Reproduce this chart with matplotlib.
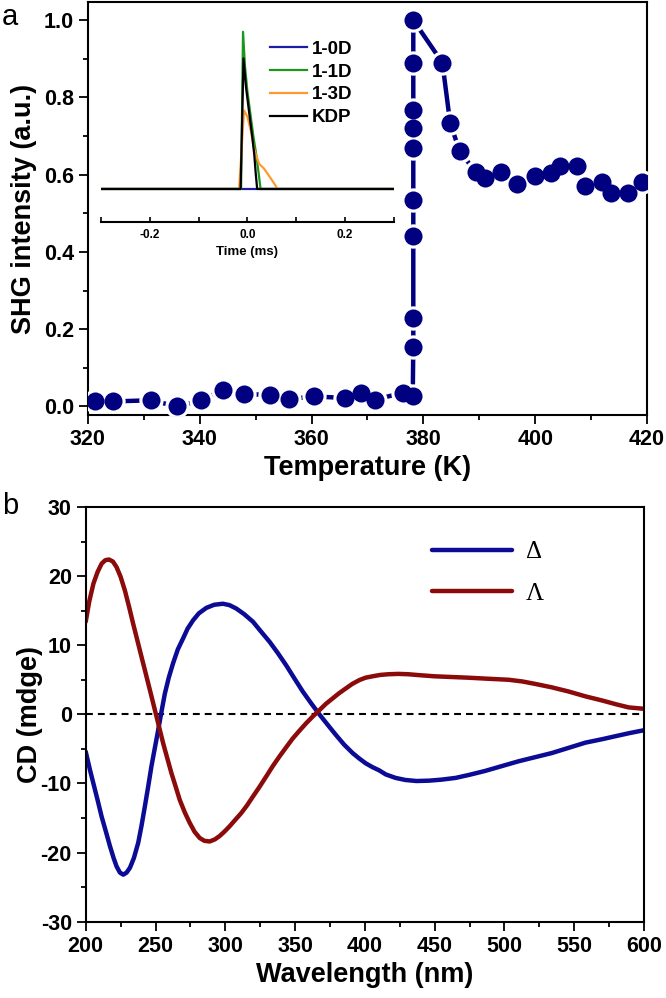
import numpy as np
import matplotlib
matplotlib.use('Agg')
import matplotlib.pyplot as plt
from matplotlib.ticker import MultipleLocator, FormatStrFormatter

plt.rcParams['font.family'] = ['Liberation Sans', 'DejaVu Sans']
plt.rcParams['font.weight'] = 'bold'
plt.rcParams['axes.unicode_minus'] = False

# panel a: SHG intensity vs temperature
temp = [321.3, 324.4, 331.2, 336.0, 340.3, 344.2, 347.9, 352.5, 355.9, 360.4,
        365.9, 368.9, 371.3, 376.4, 378.1, 378.2, 378.2, 378.2, 378.2, 378.2,
        378.2, 378.2, 378.2, 378.2, 383.4, 384.8, 386.5, 389.4, 391.0, 393.9,
        396.8, 399.9, 402.9, 404.4, 407.4, 409.0, 412.0, 413.6, 416.6, 419.2]
shg = [0.013, 0.013, 0.016, 0.000, 0.016, 0.043, 0.032, 0.030, 0.019, 0.026,
       0.022, 0.035, 0.017, 0.036, 0.028, 0.155, 0.229, 0.442, 0.535, 0.670,
       0.721, 0.767, 0.890, 1.000, 0.890, 0.733, 0.661, 0.606, 0.592, 0.607,
       0.575, 0.597, 0.604, 0.622, 0.623, 0.571, 0.582, 0.552, 0.552, 0.582]

# inset: SHG signal vs time
t_0d = [-0.3, 0.3]
y_0d = [0.0, 0.0]
t_1d = [-0.3, -0.013, -0.009, -0.005, 0.000, 0.006, 0.012, 0.018, 0.023, 0.027, 0.3]
y_1d = [0.0, 0.0, 1.00, 0.78, 0.62, 0.48, 0.34, 0.22, 0.10, 0.0, 0.0]
t_3d = [-0.3, -0.017, -0.007, 0.000, 0.007, 0.014, 0.024, 0.034, 0.044, 0.051, 0.058, 0.061, 0.3]
y_3d = [0.0, 0.0, 0.50, 0.46, 0.37, 0.25, 0.16, 0.13, 0.085, 0.053, 0.02, 0.0, 0.0]
t_kdp = [-0.3, -0.014, -0.008, -0.003, 0.005, 0.010, 0.014, 0.017, 0.020, 0.3]
y_kdp = [0.0, 0.0, 0.83, 0.65, 0.45, 0.33, 0.22, 0.10, 0.0, 0.0]

# panel b: CD spectra
wl_delta = [200, 203, 205.5, 208.5, 211.4, 214.5, 217.4, 220, 222.1, 224.5,
            226.9, 229.3, 231.7, 234.5, 237.6, 240, 242.4, 244.8, 247.1, 249.5,
            251.9, 254.3, 256.7, 259.5, 262.6, 266, 269.8, 273, 276.9, 281,
            286.4, 292, 298.3, 303, 307.9, 313.5, 319.8, 325.5, 331.7, 337.5,
            343.6, 349.5, 355.5, 361.5, 367.4, 373.3, 379.3, 385.2, 391.2, 396,
            400.7, 405.5, 410.2, 415, 422, 429, 437, 446, 455, 465,
            475, 486, 498, 510, 522, 534, 546, 558, 570, 581,
            590, 600]
cd_delta = [-5.4, -8.0, -10.0, -12.4, -14.8, -17.0, -19.1, -20.8, -22.0, -22.9,
            -23.2, -22.9, -22.2, -20.8, -18.6, -16.1, -13.3, -10.4, -7.5, -4.9,
            -2.3, 0.4, 3.0, 5.3, 7.4, 9.4, 11.0, 12.4, 13.6, 14.6,
            15.4, 15.85, 16.0, 15.8, 15.3, 14.5, 13.4, 12.0, 10.5, 8.9,
            7.1, 5.2, 3.3, 1.6, 0.0, -1.5, -3.0, -4.4, -5.6, -6.4,
            -7.1, -7.65, -8.1, -8.7, -9.2, -9.5, -9.65, -9.6, -9.45, -9.2,
            -8.75, -8.2, -7.5, -6.8, -6.2, -5.6, -4.85, -4.1, -3.6, -3.1,
            -2.7, -2.3]
wl_lambda = [200, 202.5, 205.5, 208.5, 211.4, 214, 216.7, 219.5, 222.1, 225,
             228.1, 231, 234, 237, 240, 243, 246, 250.7, 255.5, 258.5,
             261.4, 264.5, 267.4, 271, 274.5, 278, 281.7, 285, 288.8, 292.5,
             296, 299.5, 303.1, 307, 311.4, 315.5, 319.8, 324.5, 329.3, 334,
             338.8, 343.5, 348.3, 353, 357.9, 362.5, 367.4, 372, 376.9, 381.5,
             386.4, 391, 396, 400.5, 405.5, 411, 417, 424, 431, 440,
             450, 462, 474, 488, 503, 513, 522, 534, 546, 558,
             570, 580, 589, 600]
cd_lambda = [13.4, 16.3, 18.9, 20.6, 21.8, 22.3, 22.4, 22.1, 21.3, 19.9,
             17.9, 15.6, 13.1, 10.7, 8.3, 5.9, 3.5, -0.3, -4.2, -6.4,
             -8.5, -10.5, -12.4, -14.2, -15.7, -17.0, -17.9, -18.3, -18.4, -18.1,
             -17.6, -16.95, -16.2, -15.3, -14.3, -13.2, -11.9, -10.5, -9.0, -7.5,
             -6.1, -4.8, -3.5, -2.4, -1.3, -0.35, 0.6, 1.5, 2.3, 3.05,
             3.75, 4.4, 4.95, 5.3, 5.5, 5.7, 5.8, 5.85, 5.8, 5.65,
             5.5, 5.4, 5.3, 5.15, 5.0, 4.75, 4.4, 3.9, 3.3, 2.6,
             2.0, 1.45, 1.0, 0.8]

navy = '#000080'
fig = plt.figure(figsize=(6.66, 9.98), dpi=100)

# ---- panel a ----
ax1 = fig.add_axes([0.1321, 0.5842, 0.8393, 0.4138])
ax1.plot(temp, shg, color=navy, lw=3.2, zorder=2)
ax1.plot(temp, shg, 'o', color='white', ms=17.5, mec='none', zorder=3)
ax1.plot(temp, shg, 'o', color=navy, ms=13, mec='none', zorder=4)
ax1.set_xlim(320, 420)
ax1.set_ylim(-0.022, 1.047)
ax1.xaxis.set_major_locator(MultipleLocator(20))
ax1.xaxis.set_minor_locator(MultipleLocator(10))
ax1.yaxis.set_major_locator(MultipleLocator(0.2))
ax1.yaxis.set_minor_locator(MultipleLocator(0.1))
ax1.yaxis.set_major_formatter(FormatStrFormatter('%.1f'))
ax1.set_xlabel('Temperature (K)', fontsize=19.5, fontweight='bold', labelpad=4)
ax1.set_ylabel('SHG intensity (a.u.)', fontsize=19.5, fontweight='bold')
ax1.yaxis.set_label_coords(-0.092, 0.5)

# ---- panel b ----
ax2 = fig.add_axes([0.1287, 0.0765, 0.8383, 0.4155])
ax2.plot([200, 600], [0, 0], color='black', lw=1.5, ls=(0, (3.3, 2.4)), zorder=1)
ax2.plot(wl_delta, cd_delta, color='#0b0b96', lw=3.2, label='\u0394', solid_capstyle='round')
ax2.plot(wl_lambda, cd_lambda, color='#8b0a0a', lw=3.2, label='\u039b', solid_capstyle='round')
ax2.set_xlim(200, 600)
ax2.set_ylim(-30, 30)
ax2.xaxis.set_major_locator(MultipleLocator(50))
ax2.xaxis.set_minor_locator(MultipleLocator(25))
ax2.yaxis.set_major_locator(MultipleLocator(10))
ax2.yaxis.set_minor_locator(MultipleLocator(5))
ax2.set_xlabel('Wavelength (nm)', fontsize=19.5, fontweight='bold', labelpad=4)
ax2.set_ylabel('CD (mdge)', fontsize=19.5, fontweight='bold')
ax2.yaxis.set_label_coords(-0.076, 0.5)
leg = ax2.legend(loc='upper left', bbox_to_anchor=(0.62, 0.918), frameon=False,
                 borderpad=0, borderaxespad=0, handlelength=3.2, handletextpad=0.55,
                 labelspacing=0.75, prop={'family': ['Liberation Serif', 'DejaVu Serif'],
                                          'size': 18, 'weight': 'normal'})

for ax in (ax1, ax2):
    for s in ax.spines.values():
        s.set_linewidth(1.5)
    ax.tick_params(which='both', direction='out', width=1.3, labelsize=15.5)
    ax.tick_params(which='major', length=6.5)
    ax.tick_params(which='minor', length=3.5)
    for lab in ax.get_xticklabels() + ax.get_yticklabels():
        lab.set_fontweight('bold')

# ---- inset ----
axi = fig.add_axes([0.152, 0.7776, 0.439, 0.1984])
axi.plot(t_0d, y_0d, color='#1c1ca6', lw=1.6, label='1-0D')
axi.plot(t_1d, y_1d, color='#1e961e', lw=1.6, label='1-1D')
axi.plot(t_3d, y_3d, color='#ff9a30', lw=1.6, label='1-3D')
axi.plot(t_kdp, y_kdp, color='black', lw=1.6, label='KDP')
axi.set_xlim(-0.3, 0.3)
axi.set_ylim(-0.21, 1.05)
axi.patch.set_alpha(0)
for k in ('left', 'right', 'top'):
    axi.spines[k].set_visible(False)
axi.spines['bottom'].set_linewidth(1.5)
axi.set_yticks([])
axi.xaxis.set_major_locator(MultipleLocator(0.2))
axi.xaxis.set_minor_locator(MultipleLocator(0.1))
axi.xaxis.set_major_formatter(FormatStrFormatter('%.1f'))
axi.tick_params(axis='x', which='both', direction='in', width=1.2, length=3.5, labelsize=8.5, pad=5)
for lab in axi.get_xticklabels():
    lab.set_fontweight('bold')
axi.set_xlabel('Time (ms)', fontsize=9.5, fontweight='bold', labelpad=4)
axi.legend(loc='upper left', bbox_to_anchor=(0.577, 0.915), frameon=False,
           borderpad=0, borderaxespad=0, handlelength=2.0, handletextpad=0.25,
           labelspacing=0.3, prop={'size': 13.5, 'weight': 'bold'})

fig.text(0.003, 0.997, 'a', fontsize=21, fontweight='normal', va='top')
fig.text(0.003, 0.507, 'b', fontsize=21, fontweight='normal', va='top')

fig.savefig('out.png', dpi=100)
